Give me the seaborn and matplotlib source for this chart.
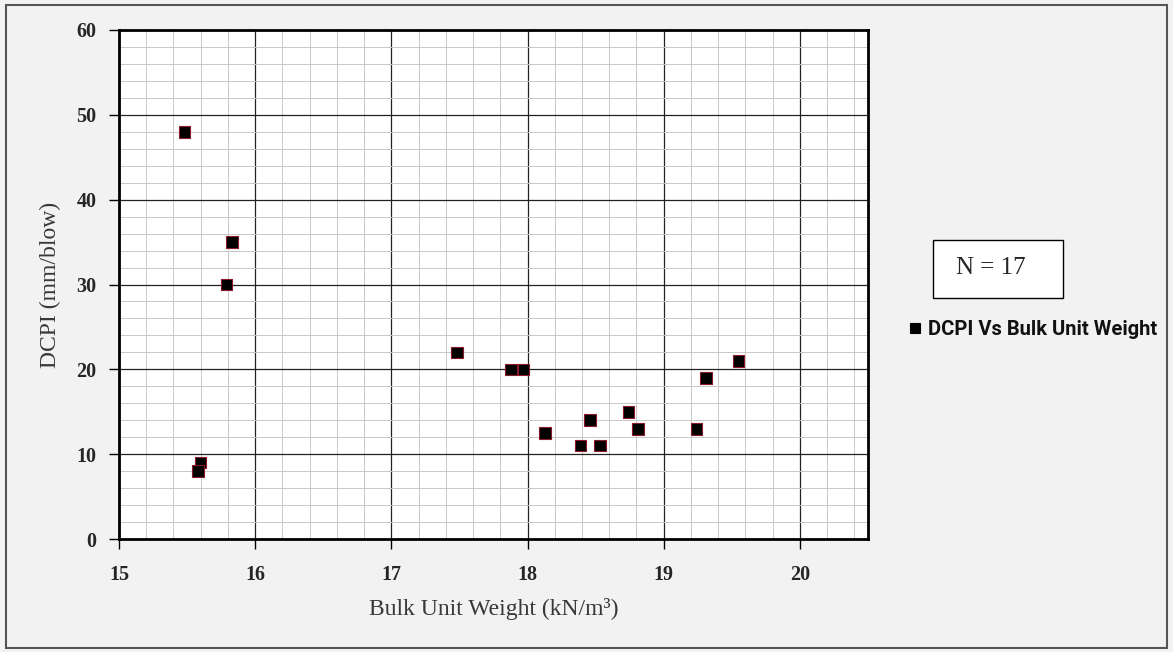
import matplotlib
matplotlib.use("Agg")
import matplotlib.pyplot as plt
from matplotlib.patches import Rectangle
from matplotlib.ticker import MultipleLocator
import seaborn as sns
import pandas as pd

# DCPI test results against bulk unit weight
bulk_unit_weight = [15.48, 15.83, 15.79, 15.60, 15.58, 17.48, 17.88, 17.97,
                    18.13, 18.39, 18.46, 18.53, 18.74, 18.81, 19.24, 19.31, 19.55]
dcpi = [48, 35, 30, 9, 8, 22, 20, 20, 12.5, 11, 14, 11, 15, 13, 13, 19, 21]
series_name = "DCPI Vs Bulk Unit Weight"
sample_note = "N = 17"
x_ticks = [15, 16, 17, 18, 19, 20]
y_ticks = [0, 10, 20, 30, 40, 50, 60]

df = pd.DataFrame({"x": bulk_unit_weight, "y": dcpi, "series": series_name})

sns.set_style("white")
plt.rcParams["font.family"] = ["Liberation Serif", "DejaVu Serif"]

fig = plt.figure(figsize=(11.73, 6.52), dpi=100)
fig.patch.set_facecolor("#f2f2f2")
ax = fig.add_axes([0.1014, 0.1733, 0.6386, 0.7807])
ax.set_facecolor("white")

sns.scatterplot(data=df, x="x", y="y", hue="series", palette=["black"],
                marker="s", s=70, edgecolor="#8b1a2b", linewidth=0.8,
                ax=ax, zorder=5, legend=True)

ax.set_xlim(15, 20.5)
ax.set_ylim(0, 60)
ax.set_xticks(x_ticks)
ax.set_yticks(y_ticks)
ax.xaxis.set_minor_locator(MultipleLocator(0.2))
ax.yaxis.set_minor_locator(MultipleLocator(2))
ax.grid(which="major", color="#222222", linewidth=0.9, zorder=1)
ax.grid(which="minor", color="#c8c8c8", linewidth=0.7, zorder=0)
ax.set_axisbelow(True)

for side in ["left", "bottom", "right", "top"]:
    ax.spines[side].set_color("black")
    ax.spines[side].set_linewidth(2.0)

ax.tick_params(which="major", direction="out", length=7, width=1.0,
               color="black", left=True, bottom=True, labelsize=14.5)
ax.tick_params(axis="x", which="major", pad=12)
ax.tick_params(axis="y", which="major", pad=9)
ax.tick_params(which="minor", length=0)
for lbl in ax.get_xticklabels() + ax.get_yticklabels():
    lbl.set_fontweight("bold")

ax.set_xlabel("Bulk Unit Weight (kN/m³)", fontsize=17, color="#383838", labelpad=9)
ax.set_ylabel("DCPI (mm/blow)", fontsize=17, color="#383838", labelpad=11)

leg = ax.legend(loc="center left", bbox_to_anchor=(0.773, 0.494),
                bbox_transform=fig.transFigure, frameon=False,
                handletextpad=0.25, borderpad=0, borderaxespad=0,
                handlelength=0.8, markerscale=0.85,
                prop={"family": ["Roboto", "DejaVu Sans"],
                      "weight": "bold", "size": 14.5})
for h in leg.legend_handles:
    if hasattr(h, "set_markeredgecolor"):
        h.set_markeredgecolor("black")
    elif hasattr(h, "set_edgecolor"):
        h.set_edgecolor("black")
for t in leg.get_texts():
    t.set_color("#111111")

# sample-size box
fig.patches.append(Rectangle((933 / 1173, 1 - 298 / 652), 130 / 1173, 58 / 652,
                             transform=fig.transFigure, facecolor="white",
                             edgecolor="black", linewidth=1.0, zorder=3))
fig.text(991 / 1173, 1 - 268 / 652, sample_note, ha="center", va="center",
         fontsize=18, zorder=4)

# outer frame around the whole chart
fig.patches.append(Rectangle((0.005, 0.006), 0.99, 0.987, transform=fig.transFigure,
                             fill=False, edgecolor="#555555", linewidth=1.5))

fig.savefig("out.png", dpi=100, facecolor=fig.get_facecolor())
